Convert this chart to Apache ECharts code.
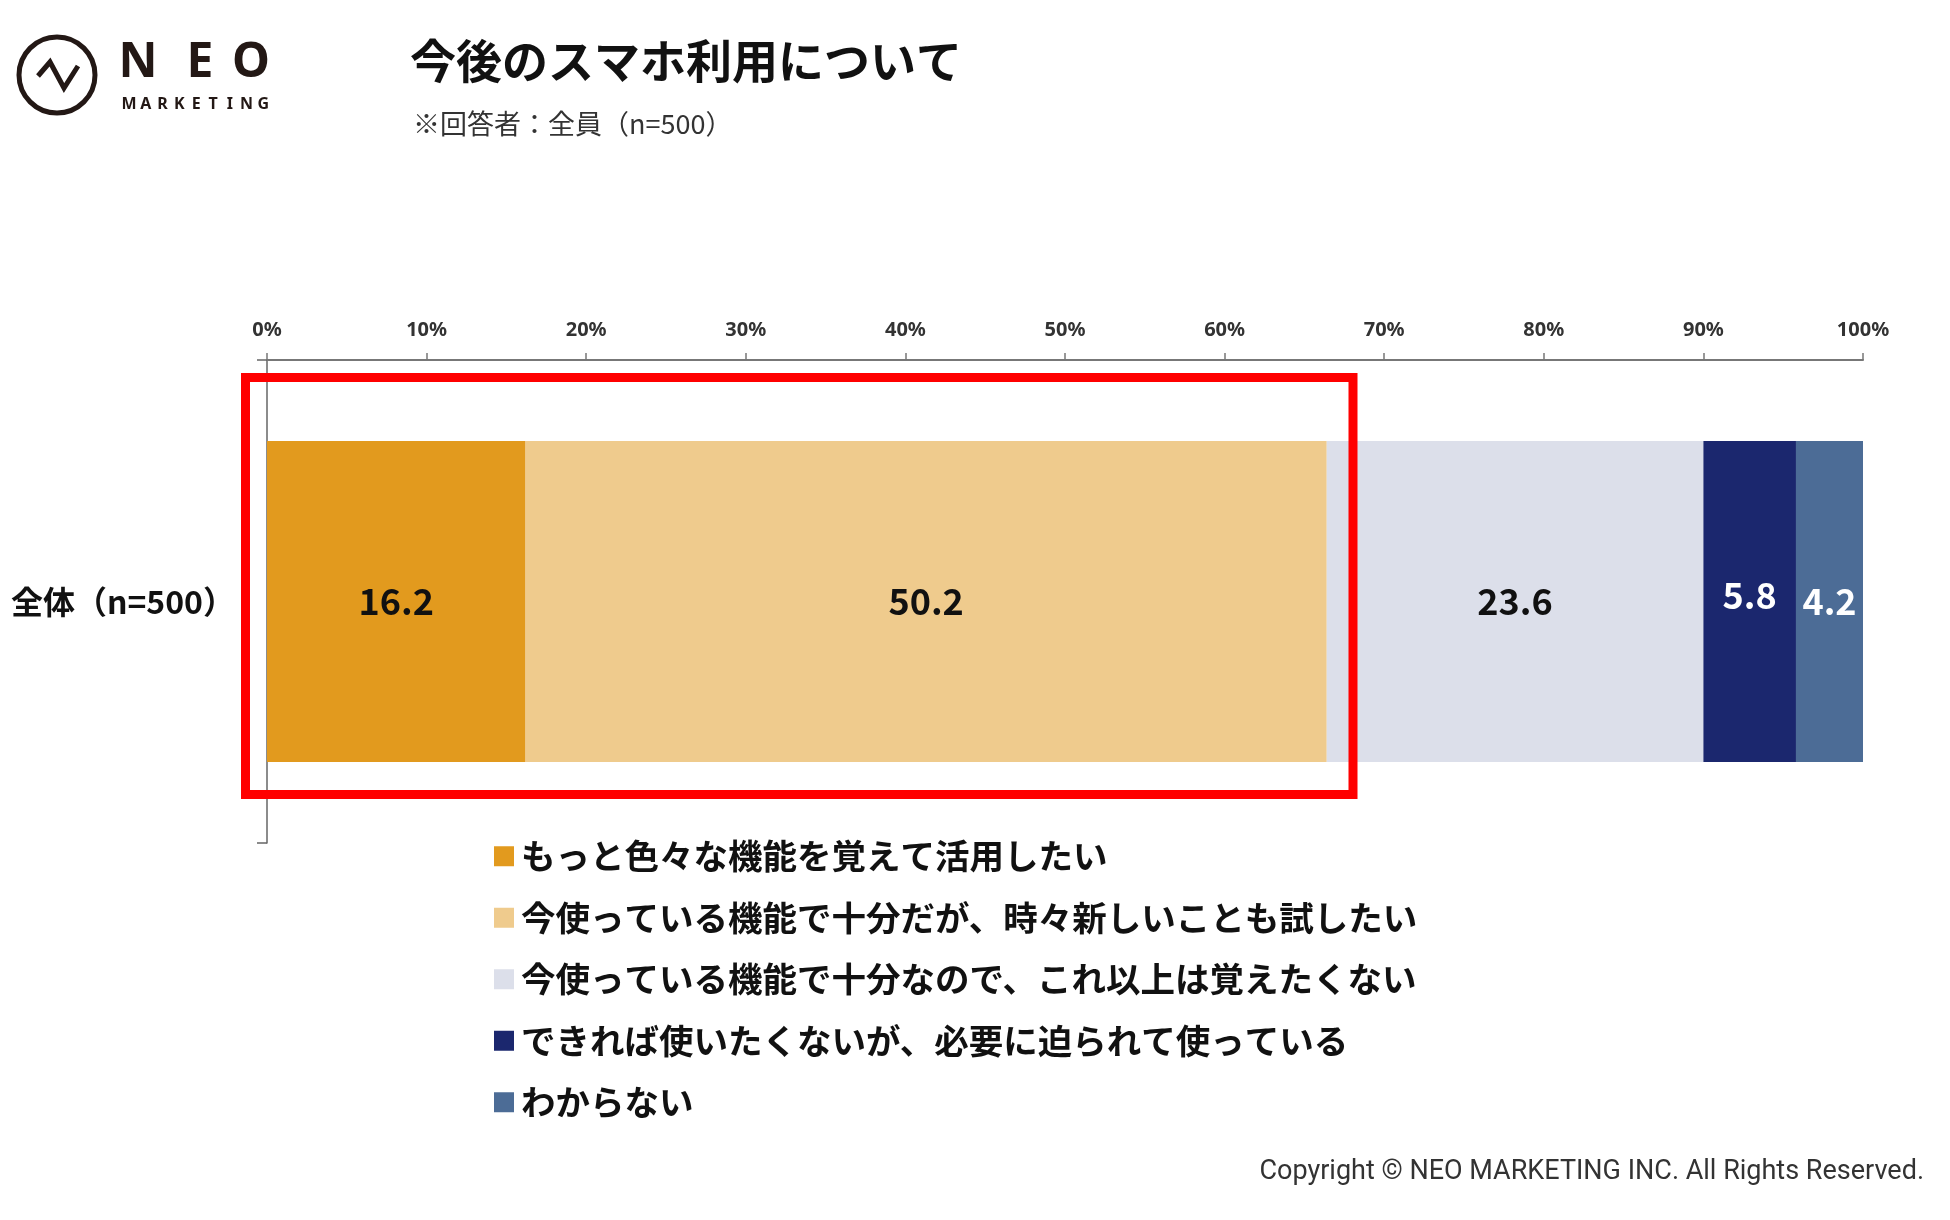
<!DOCTYPE html>
<html>
<head>
<meta charset="utf-8">
<title>今後のスマホ利用について</title>
<script src="https://cdn.jsdelivr.net/npm/echarts@6/dist/echarts.min.js"></script>
<style>
  html, body { margin: 0; padding: 0; background: #fff; }
  #chart { width: 1950px; height: 1220px; }
</style>
</head>
<body>
<div id="chart"></div>
<script>
// data
var categories = ['全体（n=500）'];
var seriesNames = [
  'もっと色々な機能を覚えて活用したい',
  '今使っている機能で十分だが、時々新しいことも試したい',
  '今使っている機能で十分なので、これ以上は覚えたくない',
  'できれば使いたくないが、必要に迫られて使っている',
  'わからない'
];
var seriesValues = [16.2, 50.2, 23.6, 5.8, 4.2];
var seriesColors = ['#e29a1e', '#efcb8d', '#dcdfea', '#1b276e', '#4c6c96'];
var labelColors = ['#111', '#111', '#111', '#fff', '#fff'];
var tickValues = [0, 10, 20, 30, 40, 50, 60, 70, 80, 90, 100];

var FONT = '"Noto Sans CJK JP", "Noto Sans", sans-serif';

var myChart = echarts.init(document.getElementById('chart'));

var series = seriesNames.map(function (name, i) {
  return {
    name: name,
    type: 'bar',
    stack: 'total',
    barWidth: 321,
    itemStyle: { color: seriesColors[i] },
    label: {
      show: true,
      position: 'inside',
      color: labelColors[i],
      fontFamily: FONT,
      fontWeight: 'bold',
      fontSize: 36,
      offset: i === 3 ? [0, -6] : [0, 0],
      formatter: function (p) { return p.value.toFixed(1); }
    },
    data: [seriesValues[i]]
  };
});

// logo letters placed one by one (wide tracking)
var logoGraphics = [
  { type: 'circle', shape: { cx: 57, cy: 75, r: 38 },
    style: { fill: 'none', stroke: '#231815', lineWidth: 5 } },
  { type: 'polyline', shape: { points: [[38, 76], [50, 62], [64, 88], [78, 66]] },
    style: { fill: 'none', stroke: '#231815', lineWidth: 5, lineJoin: 'miter' } }
];
['N', 'E', 'O'].forEach(function (ch, i) {
  logoGraphics.push({
    type: 'text', x: [138, 200, 251][i], y: 63,
    style: { text: ch, fontFamily: '"Noto Sans", sans-serif', fontWeight: 'bold', fontSize: 48,
      fill: '#231815', align: 'center', verticalAlign: 'middle' }
  });
});
'MARKETING'.split('').forEach(function (ch, i) {
  logoGraphics.push({
    type: 'text', x: 129 + i * 16.8, y: 104,
    style: { text: ch, fontFamily: '"Noto Sans", sans-serif', fontWeight: 'bold', fontSize: 16,
      fill: '#231815', align: 'center', verticalAlign: 'middle' }
  });
});

var options = {
  backgroundColor: '#fff',
  animation: false,
  title: [
    {
      text: '今後のスマホ利用について',
      left: 405, top: 33,
      textStyle: { fontFamily: FONT, fontWeight: 'bold', fontSize: 46, color: '#111' }
    },
    {
      text: '※回答者：全員（n=500）',
      left: 408, top: 105,
      textStyle: { fontFamily: FONT, fontWeight: 'normal', fontSize: 27, color: '#333' }
    }
  ],
  grid: { left: 267, right: 87, top: 360, bottom: 377 },
  xAxis: {
    type: 'value',
    position: 'top',
    min: 0,
    max: 100,
    interval: 10,
    axisLine: { show: true, lineStyle: { color: '#777', width: 2 } },
    axisTick: { show: true, length: 7, lineStyle: { color: '#777', width: 1.5 } },
    splitLine: { show: false },
    axisLabel: {
      margin: 20,
      fontFamily: '"Noto Sans", sans-serif',
      fontWeight: 'bold',
      fontSize: 20,
      color: '#333',
      customValues: tickValues,
      formatter: '{value}%'
    }
  },
  yAxis: {
    type: 'category',
    data: categories,
    axisLine: { show: true, lineStyle: { color: '#666', width: 1.5 } },
    axisTick: { show: true, length: 10, lineStyle: { color: '#666', width: 1.5 } },
    axisLabel: {
      margin: 32,
      fontFamily: FONT,
      fontWeight: 'bold',
      fontSize: 32,
      color: '#111'
    }
  },
  legend: {
    orient: 'vertical',
    left: 489,
    top: 834,
    itemWidth: 20,
    itemHeight: 20,
    itemGap: 27,
    icon: 'rect',
    data: seriesNames,
    textStyle: {
      fontFamily: FONT,
      fontWeight: 'bold',
      fontSize: 34.5,
      color: '#111',
      padding: [0, 0, 0, 2]
    }
  },
  graphic: logoGraphics.concat([
    {
      // red highlight frame
      type: 'rect', z: 100,
      shape: { x: 245.5, y: 377.5, width: 1107.5, height: 417 },
      style: { fill: 'none', stroke: '#ff0000', lineWidth: 9 }
    },
    {
      type: 'text', right: 26, top: 1159,
      style: { text: 'Copyright © NEO MARKETING INC. All Rights Reserved.',
        fontFamily: 'Roboto, sans-serif', fontSize: 27, fill: '#333' }
    }
  ]),
  series: series
};

myChart.setOption(options, true);
</script>
</body>
</html>
